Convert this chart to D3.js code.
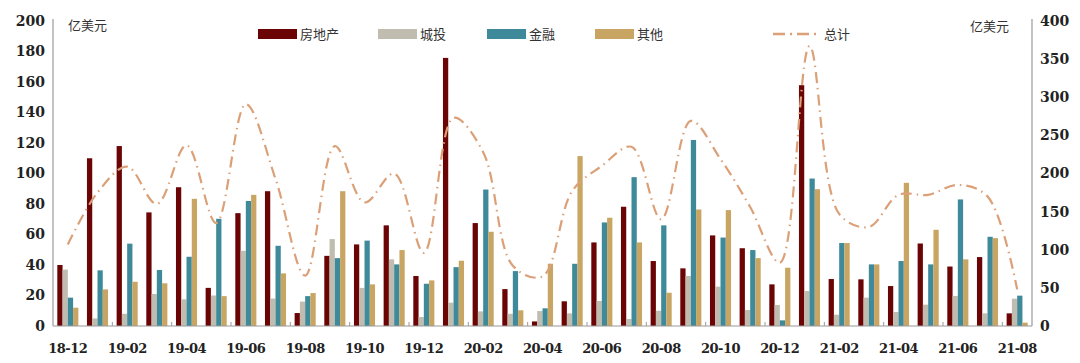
<!DOCTYPE html>
<html>
<head>
<meta charset="utf-8">
<script src="https://cdn.jsdelivr.net/npm/d3@7"></script>
<style>
  body { margin: 0; background: #fff; }
  .tick-num { font-family: "DejaVu Serif", serif; font-weight: bold; font-size: 14px; fill: #222; }
  .x-lab { font-family: "DejaVu Serif", serif; font-weight: bold; font-size: 13px; letter-spacing: -0.5px; fill: #222; }
  .cjk { font-family: "Noto Sans CJK SC", sans-serif; font-size: 13px; fill: #333; }
</style>
</head>
<body>
<svg id="chart" width="1080" height="363"></svg>
<script>
"use strict";

// months 2018-12 .. 2021-08
var months = ["18-12","19-01","19-02","19-03","19-04","19-05","19-06","19-07","19-08","19-09","19-10","19-11",
  "19-12","20-01","20-02","20-03","20-04","20-05","20-06","20-07","20-08","20-09","20-10","20-11",
  "20-12","21-01","21-02","21-03","21-04","21-05","21-06","21-07","21-08"];

var seriesNames = ["房地产", "城投", "金融", "其他"];

// values (亿美元)
var realEstate = [40, 110, 118, 74.5, 91, 25, 74, 88.4, 8.5, 46, 53.5, 66, 32.8, 175.8, 67.5, 24.2, 3,
  16.2, 54.8, 78.2, 42.6, 37.8, 59.4, 51, 27.3, 157.9, 30.8, 30.6, 26.2, 54.1, 39, 45.2, 8.3];
var lgfv = [37, 5, 8, 21, 17.5, 20, 49.3, 18, 16, 57, 25, 43.7, 5.9, 15.3, 9.6, 8, 9.8,
  8.3, 16.4, 4.6, 10, 32.8, 25.8, 10.5, 13.8, 22.9, 7.4, 18.6, 9.2, 14, 19.7, 8.3, 17.9];
var finance = [18.6, 36.5, 54, 36.7, 45.4, 70.3, 82, 52.6, 19.6, 44.5, 56, 40.4, 27.7, 38.6, 89.5, 36, 11.6,
  40.8, 67.9, 97.6, 66, 122, 58, 49.8, 3.7, 96.7, 54.4, 40.4, 42.6, 40.4, 83, 58.5, 19.9];
var other = [12, 24, 29, 28, 83.4, 19.6, 86, 34.5, 21.6, 88.4, 27.3, 49.8, 29.9, 42.8, 61.8, 10.3, 40.8,
  111.4, 71, 54.8, 21.8, 76.4, 76, 44.5, 38.2, 89.7, 54.4, 40.4, 93.9, 63.1, 43.7, 57.6, 2.2];
// total line (right axis)
var total = [107, 175, 209, 160, 237, 135, 291, 193, 66, 236, 162, 200, 96, 273, 228, 79, 65,
  177, 210, 235, 140, 269, 219, 156, 83, 367, 147, 130, 172, 172, 185, 170, 48];

var leftTicks = [0, 20, 40, 60, 80, 100, 120, 140, 160, 180, 200];
var rightTicks = [0, 50, 100, 150, 200, 250, 300, 350, 400];

var colors = ["#6b0505", "#c0bdb0", "#3f8a9a", "#c8a563"];
var lineColor = "#dba078";

function drawChart() {
  var svg = d3.select("#chart");
  var left = 53, right = 1032, plotTop = 21, bottom = 326;

  var x = d3.scaleBand().domain(months).range([left, right]).padding(0);
  var bw = x.bandwidth();
  var x1 = d3.scaleBand().domain(seriesNames).range([4.3, bw - 4.3]).padding(0);
  var yL = d3.scaleLinear().domain([0, 200]).range([bottom, plotTop]);
  var yR = d3.scaleLinear().domain([0, 400]).range([bottom, plotTop]);

  var data = [realEstate, lgfv, finance, other];

  // bars
  var groups = svg.append("g").selectAll("g")
    .data(months)
    .enter()
    .append("g")
    .attr("transform", d => "translate(" + x(d) + ",0)");

  groups.selectAll("rect")
    .data((m, i) => seriesNames.map((s, k) => ({ s: s, k: k, v: data[k][i] })))
    .enter()
    .append("rect")
    .attr("x", d => x1(d.s))
    .attr("width", x1.bandwidth())
    .attr("y", d => yL(d.v))
    .attr("height", d => yL(0) - yL(d.v))
    .attr("fill", d => colors[d.k]);

  // axes lines
  var axisColor = "#9a9a9a";
  svg.append("line").attr("x1", left).attr("x2", left).attr("y1", plotTop - 2).attr("y2", bottom)
    .attr("stroke", axisColor).attr("stroke-width", 1.2);
  svg.append("line").attr("x1", right).attr("x2", right).attr("y1", plotTop - 2).attr("y2", bottom)
    .attr("stroke", axisColor).attr("stroke-width", 1.2);
  svg.append("line").attr("x1", left).attr("x2", right).attr("y1", bottom).attr("y2", bottom)
    .attr("stroke", axisColor).attr("stroke-width", 1.2);

  // small x ticks every two months
  svg.append("g").selectAll("line")
    .data(months.filter((m, i) => i % 2 === 0 && i > 0))
    .enter()
    .append("line")
    .attr("x1", d => x(d)).attr("x2", d => x(d))
    .attr("y1", bottom).attr("y2", bottom - 4)
    .attr("stroke", axisColor);

  // total line
  var line = d3.line()
    .x((d, i) => x(months[i]) + bw / 2)
    .y(d => yR(d))
    .curve(d3.curveCatmullRom.alpha(0.5));

  svg.append("path")
    .datum(total)
    .attr("d", line)
    .attr("fill", "none")
    .attr("stroke", lineColor)
    .attr("stroke-width", 2.2)
    .attr("stroke-dasharray", "11,5,1.5,5");

  // left ticks
  svg.append("g").selectAll("text")
    .data(leftTicks)
    .enter()
    .append("text")
    .attr("class", "tick-num")
    .attr("x", 45)
    .attr("y", d => yL(d))
    .attr("dy", "0.35em")
    .attr("text-anchor", "end")
    .text(d => d);

  // right ticks
  svg.append("g").selectAll("text")
    .data(rightTicks)
    .enter()
    .append("text")
    .attr("class", "tick-num")
    .attr("x", 1040)
    .attr("y", d => yR(d))
    .attr("dy", "0.35em")
    .text(d => d);

  // x labels
  svg.append("g").selectAll("text")
    .data(months.filter((m, i) => i % 2 === 0))
    .enter()
    .append("text")
    .attr("class", "x-lab")
    .attr("x", d => x(d) + bw / 2)
    .attr("y", 353)
    .attr("text-anchor", "middle")
    .text(d => d);

  // units
  svg.append("text").attr("class", "cjk").attr("x", 68).attr("y", 30).text("亿美元");
  svg.append("text").attr("class", "cjk").attr("x", 970).attr("y", 31).text("亿美元");

  // legend
  var legendX = [258, 378, 487, 595];
  var lg = svg.append("g");
  lg.selectAll("rect")
    .data(seriesNames)
    .enter()
    .append("rect")
    .attr("x", (d, i) => legendX[i])
    .attr("y", 29)
    .attr("width", 39)
    .attr("height", 10)
    .attr("fill", (d, i) => colors[i]);
  lg.selectAll("text")
    .data(seriesNames)
    .enter()
    .append("text")
    .attr("class", "cjk")
    .attr("x", (d, i) => legendX[i] + 42)
    .attr("y", 39)
    .text(d => d);
  lg.append("line")
    .attr("x1", 773).attr("x2", 820).attr("y1", 34).attr("y2", 34)
    .attr("stroke", lineColor).attr("stroke-width", 2.5)
    .attr("stroke-dasharray", "12,5,2,5");
  lg.append("text").attr("class", "cjk").attr("x", 824).attr("y", 39).text("总计");
}

drawChart();
</script>
</body>
</html>
